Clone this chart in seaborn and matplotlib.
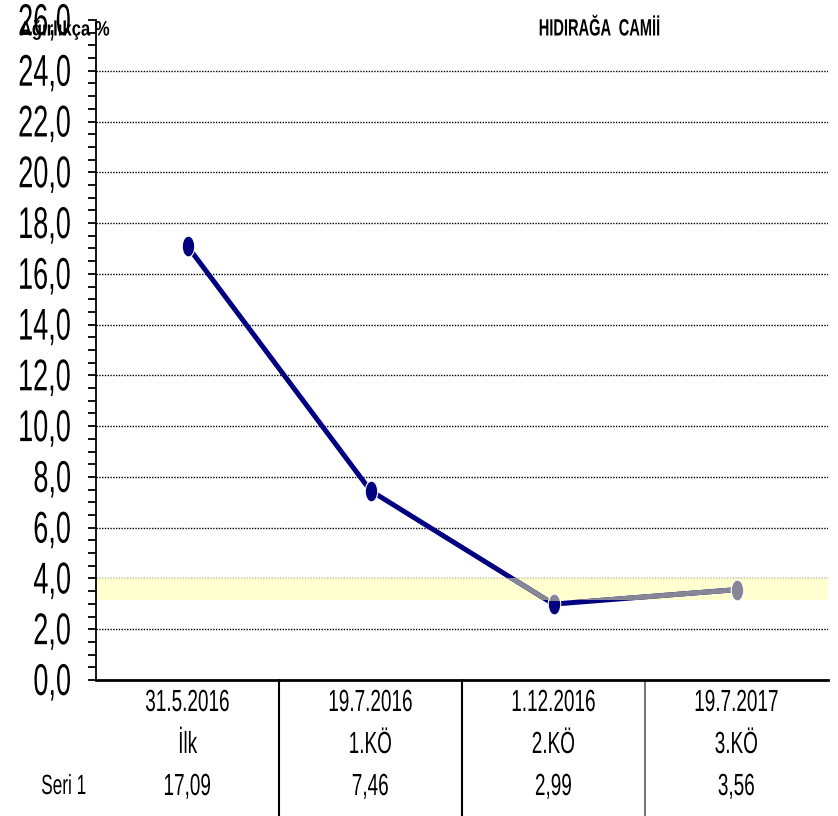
import numpy as np
import pandas as pd
import seaborn as sns
import matplotlib.pyplot as plt
import matplotlib.transforms as mtransforms
from matplotlib.patches import Rectangle
from matplotlib.path import Path
from matplotlib.patheffects import AbstractPathEffect
from matplotlib.ticker import MultipleLocator, FuncFormatter

dates = ["31.5.2016", "19.7.2016", "1.12.2016", "19.7.2017"]
stages = ["İlk", "1.KÖ", "2.KÖ", "3.KÖ"]
values = [17.09, 7.46, 2.99, 3.56]
band_low, band_high = 3.15, 4.0

df = pd.DataFrame({"pos": range(len(values)), "value": values})


class Squeeze(AbstractPathEffect):
    # rescale the glyphs about their centre (the original uses a narrow font)
    def __init__(self, sx=0.62, sy=1.0):
        super().__init__()
        self.sx, self.sy = sx, sy

    def draw_path(self, renderer, gc, tpath, affine, rgbFace=None):
        v = tpath.vertices
        if len(v) == 0:
            return
        cx = (v[:, 0].min() + v[:, 0].max()) / 2
        cy = (v[:, 1].min() + v[:, 1].max()) / 2
        t = (mtransforms.Affine2D().translate(-cx, -cy)
             .scale(self.sx, self.sy).translate(cx, cy) + affine)
        renderer.draw_path(gc, tpath, t, rgbFace)


sns.set_style("white")
plt.rcParams["font.family"] = ["Liberation Sans", "DejaVu Sans"]
plt.rcParams["text.color"] = "black"
plt.rcParams["ytick.color"] = "black"

fig = plt.figure(figsize=(8.38, 8.16), dpi=100)
ax = fig.add_axes([96 / 838, 136 / 816, 732 / 838, 660 / 816])

# grid + tolerance band
for y in np.arange(2, 26, 2):
    ax.axhline(y, color="black", lw=1, ls=(0, (1.0, 1.0)), zorder=1)
ax.add_patch(Rectangle((-0.5, band_low), 4, band_high - band_low,
                       facecolor="#ffffc8", alpha=0.85, edgecolor="none", zorder=2))

circ = Path.unit_circle()
ellipse = Path(circ.vertices * [0.6, 1.0], circ.codes)

navy = "#000080"
grey = "#868696"
for col, z in [(navy, 4), (grey, 5)]:
    sns.lineplot(data=df, x="pos", y="value", ax=ax, color=col, lw=3.6,
                 marker=ellipse, markersize=15, markeredgecolor="white",
                 markeredgewidth=0.8, zorder=z)
clip = Rectangle((-0.5, band_low), 4, band_high - band_low,
                 transform=ax.transData, visible=False)
ax.add_patch(clip)
ax.lines[-1].set_clip_path(clip)

ax.set_xlim(-0.5, 3.5)
ax.set_ylim(0, 26)
ax.set_yticks(np.arange(0, 27, 2))
ax.yaxis.set_minor_locator(MultipleLocator(0.5))
ax.yaxis.set_major_formatter(FuncFormatter(lambda v, p: f"{v:.1f}".replace(".", ",")))
# small font stretched up = tall narrow numbers like the original
ax.tick_params(axis="y", which="both", direction="out", left=True,
               length=6, width=1.3, color="black", labelsize=19.5, pad=12)
ax.tick_params(axis="x", bottom=False, labelbottom=False)
for lab in ax.get_yticklabels():
    lab.set_path_effects([Squeeze(1.0, 1.64)])
ax.set_xlabel("")
ax.set_ylabel("")
for s in ["top", "right"]:
    ax.spines[s].set_visible(False)
ax.spines["left"].set_color("black")
ax.spines["left"].set_linewidth(1.3)
ax.spines["bottom"].set_color("black")
ax.spines["bottom"].set_linewidth(2)

# data table under the axis
sq = [Squeeze(0.62)]
trans = mtransforms.blended_transform_factory(ax.transData, fig.transFigure)
for i, (d, st, v) in enumerate(zip(dates, stages, values)):
    for yy, txt in [(703, d), (745, st), (787, f"{v:.2f}".replace(".", ","))]:
        ax.text(i, 1 - yy / 816, txt, transform=trans, ha="center", va="center",
                fontsize=22, path_effects=sq)
fig.text(64 / 838, 1 - 787 / 816, "Seri 1", ha="center", va="center",
         fontsize=20, path_effects=sq)
for xv, c in zip([0.5, 1.5, 2.5], ["black", "black", "#777777"]):
    ax.plot([xv, xv], [136 / 816, 0], transform=trans, color=c, lw=1.5,
            clip_on=False)

fig.text(600 / 838, 1 - 29 / 816, "HIDIRAĞA  CAMİİ", ha="center", va="center",
         fontsize=17, fontweight="bold", path_effects=sq)
fig.text(65 / 838, 1 - 30 / 816, "Ağırlıkça %", ha="center", va="center",
         fontsize=15, fontweight="bold", path_effects=[Squeeze(0.8)])

fig.savefig("out.png", dpi=100)
